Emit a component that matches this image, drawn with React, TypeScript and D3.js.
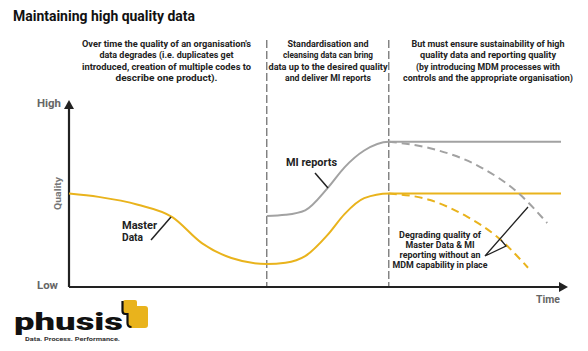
import React from 'react';
import * as d3 from 'd3';

// time runs 0..100 along the x axis, quality 0..100 (Low..High)
const masterData: [number, number][] = [
  [0, 50], [6, 48.2], [14, 44], [21, 37.4], [27, 23.5], [33, 15.5], [40.2, 12.3],
  [44, 13], [48, 16.5], [52.6, 28], [56, 39], [60, 47.5], [65, 50], [100, 50],
];
const miReports: [number, number][] = [
  [40.2, 38], [44, 38.6], [48, 41], [52.6, 53], [56, 64], [60, 73], [65, 77.7], [100, 77.7],
];
const masterDegrade: [number, number][] = [
  [65, 50], [73.4, 46.5], [80.9, 37.6], [87, 26.9], [93.3, 10.3],
];
const miDegrade: [number, number][] = [
  [65, 77.7], [73.4, 74.2], [83.5, 64.3], [91.3, 50.3], [97.2, 34.2],
];
const phaseBreaks = [40.2, 65];

const header1 = ["Over time the quality of an organisation's", 'data degrades (i.e. duplicates get', 'introduced, creation of multiple codes to', 'describe one product).'];
const header2 = ['Standardisation and', 'cleansing data can bring', 'data up to the desired quality', 'and deliver MI reports'];
const header3 = ['But must ensure sustainability of high', 'quality data and reporting quality', '(by introducing MDM processes with', 'controls and the appropriate organisation)'];
const degradeNote = ['Degrading quality of', 'Master Data & MI', 'reporting without an', 'MDM capability in place'];

// rendered line widths (px), to mimic the narrow DIN-like face
const header1W = [169, 134, 169, 102];
const header2W = [81, 90, 119, 86];
const header3W = [153, 136, 144, 170];
const noteW = [82, 69, 81, 95];

const GOLD = '#E9B31C';
const GREY = '#A2A2A2';
const FONT = 'Roboto, sans-serif';

export default function App() {
  const x = d3.scaleLinear().domain([0, 100]).range([69, 561]);
  const y = d3.scaleLinear().domain([0, 100]).range([287, 100]);
  const line = d3.line<[number, number]>().x(d => x(d[0])).y(d => y(d[1])).curve(d3.curveMonotoneX);

  const block = (lines: string[], widths: number[], cx: number, y0: number, dy: number, fs: number) =>
    lines.map((t, i) => (
      <text key={i} x={cx} y={y0 + i * dy} textAnchor="middle" fontSize={fs} fontWeight="bold" fill="#222"
        textLength={widths[i]} lengthAdjust="spacingAndGlyphs">{t}</text>
    ));

  return (
    <svg width={588} height={351} style={{ position: 'absolute', left: 0, top: 0 }} fontFamily={FONT}>
      <rect width={588} height={351} fill="#fff" />
      <text x={13} y={21} fontSize={14.5} fontWeight="bold" fill="#111" textLength={182} lengthAdjust="spacingAndGlyphs">Maintaining high quality data</text>

      {block(header1, header1W, 166.5, 46.5, 11.6, 9.5)}
      {block(header2, header2W, 328, 46.5, 11.6, 9.5)}
      {block(header3, header3W, 488, 46.5, 11.6, 9.5)}

      {phaseBreaks.map((b, i) => (
        <line key={i} x1={x(b)} x2={x(b)} y1={40} y2={y(0)} stroke="#666" strokeWidth={1.2} strokeDasharray="8,3" />
      ))}

      {/* axes */}
      <line x1={x(0)} x2={x(0)} y1={y(0)} y2={y(100) + 6} stroke="#222" strokeWidth={2.2} />
      <path d={`M${x(0)},${y(100)} l-5,9 h10 z`} fill="#222" />
      <line x1={x(0)} x2={x(100)} y1={y(0)} y2={y(0)} stroke="#222" strokeWidth={2.2} />
      <path d={`M${x(100) + 7},${y(0)} l-9,-5 v10 z`} fill="#222" />

      <text x={37} y={107} fontSize={10.5} fontWeight="bold" fill="#666" textLength={24} lengthAdjust="spacingAndGlyphs">High</text>
      <text x={37} y={289} fontSize={10.5} fontWeight="bold" fill="#666" textLength={21} lengthAdjust="spacingAndGlyphs">Low</text>
      <text x={536} y={303} fontSize={10.5} fontWeight="bold" fill="#666" textLength={24} lengthAdjust="spacingAndGlyphs">Time</text>
      <text transform="translate(61,193.5) rotate(-90)" textAnchor="middle" fontSize={9.5} fontWeight="bold" fill="#777"
        textLength={33} lengthAdjust="spacingAndGlyphs">Quality</text>

      {/* series */}
      <path d={line(masterData) ?? ''} fill="none" stroke={GOLD} strokeWidth={2} />
      <path d={line(miReports) ?? ''} fill="none" stroke={GREY} strokeWidth={2} />
      <path d={line(masterDegrade) ?? ''} fill="none" stroke={GOLD} strokeWidth={2} strokeDasharray="8,5" />
      <path d={line(miDegrade) ?? ''} fill="none" stroke={GREY} strokeWidth={2} strokeDasharray="8,5" />

      {/* labels */}
      <text x={122} y={229} fontSize={10.5} fontWeight="bold" fill="#222" textLength={35} lengthAdjust="spacingAndGlyphs">Master</text>
      <text x={122} y={241} fontSize={10.5} fontWeight="bold" fill="#222" textLength={21} lengthAdjust="spacingAndGlyphs">Data</text>
      <line x1={151} y1={240} x2={171} y2={217} stroke="#222" strokeWidth={1.5} />

      <text x={286} y={166} fontSize={10.5} fontWeight="bold" fill="#222" textLength={51} lengthAdjust="spacingAndGlyphs">MI reports</text>
      <line x1={315} y1={173} x2={328} y2={188} stroke="#222" strokeWidth={1.5} />

      {block(degradeNote, noteW, 440, 237.5, 10, 9)}
      <path d="M528,207 L485,256 L506,246 L501,240" fill="none" stroke="#222" strokeWidth={1.3} />

      {/* logo */}
      <path d="M123,302 q0,-2 2,-2 h10 q2,0 2,2 v4 h8 q3,0 3,3 v16 q0,3 -3,3 h-14 q-3,0 -3,-3 v-10 h-3 q-2,0 -2,-2 z" fill={GOLD} />
      <path d="M122.5,301 v10 q0,3 3,3 h2 v9 q0,4 4,4" fill="none" stroke="#111" strokeWidth={2.2} />
      <text x={14} y={330} fontSize={24} fontWeight={900} fill="#111" textLength={109} lengthAdjust="spacingAndGlyphs">phusis</text>
      <text x={25} y={341} fontSize={5.5} fontWeight="bold" fill="#333" textLength={95} lengthAdjust="spacingAndGlyphs">Data. Process. Performance.</text>
    </svg>
  );
}
